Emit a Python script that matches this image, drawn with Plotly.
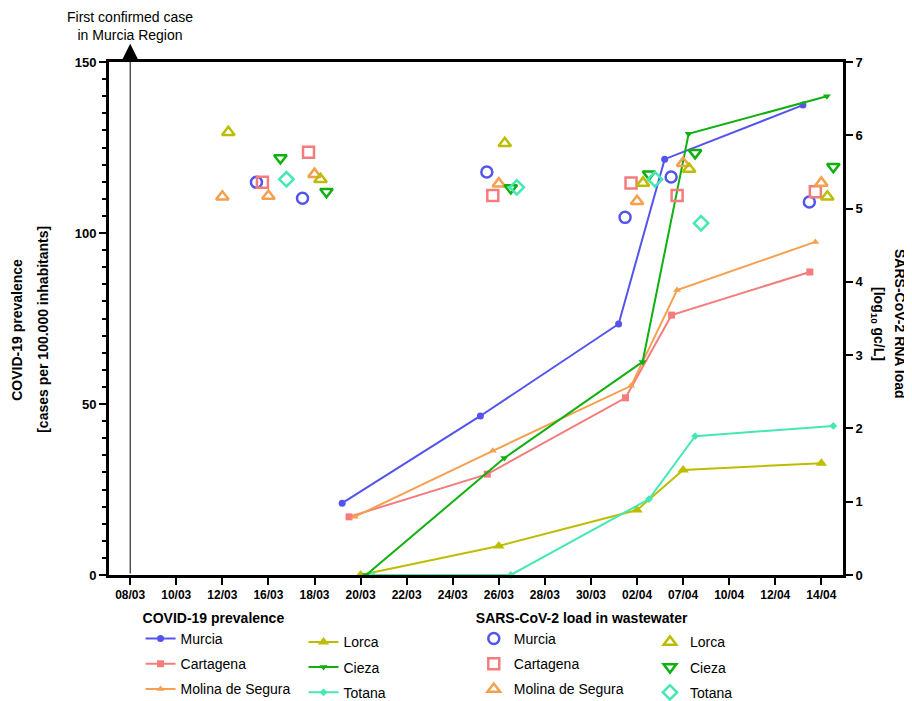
import plotly.graph_objects as go

# ---------------- data ----------------
date_labels = ["08/03", "10/03", "12/03", "16/03", "18/03", "20/03", "22/03", "24/03",
               "26/03", "28/03", "30/03", "02/04", "07/04", "10/04", "12/04", "14/04"]

cities = ["Murcia", "Cartagena", "Molina de Segura", "Lorca", "Cieza", "Totana"]

# COVID-19 prevalence (cases per 100.000 inhabitants) at dates 20/03, 26/03, 02/04, 07/04, 14/04
prev_dates = ["20/03", "26/03", "02/04", "07/04", "14/04"]
prev_murcia = [21.0, 46.5, 73.4, 121.6, 137.4]
prev_cartagena = [17.0, 29.5, 51.8, 76.0, 88.6]
prev_molina = [17.0, 36.3, 55.3, 83.3, 97.4]
prev_lorca = [0.0, 8.5, 19.0, 30.7, 32.7]
prev_cieza = [0.0, 34.2, 62.3, 129.0, 140.0]
prev_totana = [0.0, 0.0, 22.2, 40.6, 43.6]

# SARS-CoV-2 RNA load in wastewater (log10 gc/L)
ww_murcia_dates = ["16/03", "18/03", "26/03", "02/04", "07/04", "14/04"]
ww_murcia = [5.36, 5.14, 5.50, 4.88, 5.43, 5.09]
ww_cartagena_dates = ["16/03", "18/03", "26/03", "02/04", "07/04", "14/04"]
ww_cartagena = [5.36, 5.77, 5.18, 5.35, 5.18, 5.23]
ww_molina_dates = ["12/03", "16/03", "18/03", "26/03", "02/04", "07/04", "14/04"]
ww_molina = [5.16, 5.17, 5.47, 5.34, 5.10, 5.62, 5.35]
ww_lorca_dates = ["12/03", "18/03", "26/03", "02/04", "07/04", "14/04"]
ww_lorca = [6.04, 5.40, 5.89, 5.35, 5.54, 5.16]
ww_cieza_dates = ["16/03", "18/03", "26/03", "02/04", "07/04", "14/04"]
ww_cieza = [5.69, 5.23, 5.28, 5.47, 5.76, 5.57]
ww_totana_dates = ["16/03", "26/03", "02/04", "07/04"]
ww_totana = [5.40, 5.29, 5.40, 4.80]

# ---------------- styles ----------------
colors = {"Murcia": "#5454ec", "Cartagena": "#f47c7c", "Molina de Segura": "#f5a04e",
          "Lorca": "#bdbd00", "Cieza": "#10b010", "Totana": "#45e8b4"}
line_symbols = {"Murcia": ("circle", 7), "Cartagena": ("square", 7), "Molina de Segura": ("triangle-up", 7),
                "Lorca": ("triangle-up", 10), "Cieza": ("triangle-down", 7), "Totana": ("diamond", 6)}
open_symbols = {"Murcia": "circle-open", "Cartagena": "square-open", "Molina de Segura": "triangle-up-open",
                "Lorca": "triangle-up-open", "Cieza": "triangle-down-open", "Totana": "diamond-open"}
line_dodge = {"Murcia": -0.4, "Cartagena": -0.25, "Molina de Segura": -0.13,
              "Lorca": 0.0, "Cieza": 0.12, "Totana": 0.26}
pt_dodge = {"Murcia": -0.26, "Cartagena": -0.13, "Molina de Segura": 0.0,
            "Lorca": 0.13, "Cieza": 0.26, "Totana": 0.39}

prev_values = {"Murcia": prev_murcia, "Cartagena": prev_cartagena, "Molina de Segura": prev_molina,
               "Lorca": prev_lorca, "Cieza": prev_cieza, "Totana": prev_totana}
ww_values = {"Murcia": (ww_murcia_dates, ww_murcia), "Cartagena": (ww_cartagena_dates, ww_cartagena),
             "Molina de Segura": (ww_molina_dates, ww_molina), "Lorca": (ww_lorca_dates, ww_lorca),
             "Cieza": (ww_cieza_dates, ww_cieza), "Totana": (ww_totana_dates, ww_totana)}

def pos(d, off):
    return date_labels.index(d) + off

FONT = "Arial, Liberation Sans, sans-serif"
fig = go.Figure()

for i, c in enumerate(cities):
    sym, sz = line_symbols[c]
    fig.add_trace(go.Scatter(
        x=[pos(d, line_dodge[c]) for d in prev_dates], y=prev_values[c],
        mode="lines+markers", name=c, yaxis="y",
        line=dict(color=colors[c], width=2),
        marker=dict(symbol=sym, size=sz, color=colors[c]),
        cliponaxis=False,
        legend="legend" if i < 3 else "legend2", legendgroup="p" + c,
    ))

for i, c in enumerate(cities):
    ds, vs = ww_values[c]
    fig.add_trace(go.Scatter(
        x=[pos(d, pt_dodge[c]) for d in ds], y=vs,
        mode="markers", name=c, yaxis="y2",
        marker=dict(symbol=open_symbols[c], size=11, color=colors[c],
                    line=dict(width=2.5, color=colors[c])),
        cliponaxis=False,
        legend="legend3" if i < 3 else "legend4", legendgroup="w" + c,
    ))

axis_common = dict(showgrid=False, zeroline=False, showline=True, linecolor="black",
                   linewidth=3, ticks="outside", tickcolor="black", tickwidth=2, ticklen=7)

# page body has an 8px margin, so the figure is 8px smaller than the window
fig.update_layout(
    width=904, height=693,
    margin=dict(l=101, r=69, t=54, b=126, autoexpand=False),
    plot_bgcolor="white", paper_bgcolor="white",
    font=dict(family=FONT, color="black", size=14),
    xaxis=dict(range=[-0.46, 15.47], tickvals=list(range(len(date_labels))), ticktext=date_labels,
               tickfont=dict(size=12, weight="bold"), mirror=True, **axis_common),
    yaxis=dict(range=[0, 150], tickvals=[0, 50, 100, 150],
               tickfont=dict(size=13, weight="bold"),
               minor=dict(tickvals=list(range(0, 151, 5)), ticks="outside", ticklen=4,
                          tickwidth=2, tickcolor="black"),
               **axis_common),
    yaxis2=dict(range=[0, 7], overlaying="y", side="right", dtick=1,
                tickfont=dict(size=13, weight="bold"), **axis_common),
    showlegend=True,
)

leg_common = dict(orientation="v", yanchor="top", xanchor="left", bgcolor="rgba(0,0,0,0)",
                  font=dict(size=14, family=FONT), tracegroupgap=4, itemwidth=30)
fig.update_layout(
    legend=dict(x=0.043, y=-0.058, title=dict(text="COVID-19 prevalence", font=dict(size=14, weight="bold")), **leg_common),
    legend2=dict(x=0.265, y=-0.1, **leg_common),
    legend3=dict(x=0.497, y=-0.058, title=dict(text="SARS-CoV-2 load in wastewater", font=dict(size=14, weight="bold")), **leg_common),
    legend4=dict(x=0.737, y=-0.1, **leg_common),
)

# arrow marking first confirmed case
fig.add_annotation(x=0, y=155.3, xref="x", yref="y", ax=0, ay=0, axref="x", ayref="y",
                   text="", showarrow=True, arrowhead=2, arrowsize=3.5, arrowwidth=1, arrowcolor="black")
fig.add_annotation(x=0, y=1.07, xref="x", yref="paper", xanchor="center", yanchor="middle", showarrow=False,
                   text="First confirmed case<br>in Murcia Region", font=dict(size=14))

# axis titles
ttl = dict(xref="paper", yref="paper", showarrow=False, xanchor="center", yanchor="middle",
           font=dict(size=14, weight="bold"))
fig.add_annotation(x=-0.1253, y=0.478, textangle=-90, text="COVID-19 prevalence", **ttl)
fig.add_annotation(x=-0.0899, y=0.478, textangle=-90, text="[cases per 100.000 inhabitants]", **ttl)
fig.add_annotation(x=1.0785, y=0.49, textangle=90, text="SARS-CoV-2 RNA load", **ttl)
fig.add_annotation(x=1.0485, y=0.49, textangle=90, text="[log<sub>10</sub> gc/L]", **ttl)

fig.write_html("out.html")
